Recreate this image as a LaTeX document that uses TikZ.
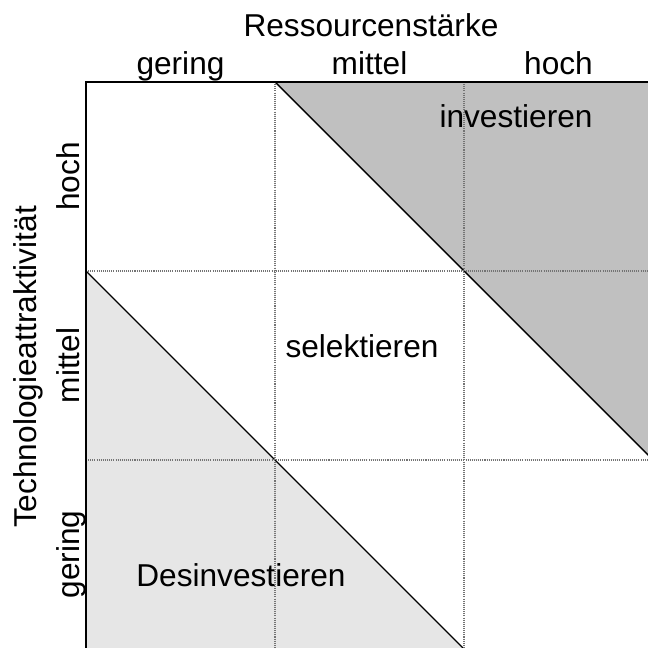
\documentclass[tikz,border=0pt]{standalone}
\usepackage{fontspec}
\setmainfont{Liberation Sans}
\definecolor{dunkelgrau}{HTML}{C0C0C0}
\definecolor{hellgrau}{HTML}{E6E6E6}

\begin{document}
\begin{tikzpicture}[x=0.02cm, y=-0.02cm,
    gitter/.style={black!55, line width=0.6pt, dash pattern=on 0.6pt off 0.6pt},
    linie/.style={black, line width=0.8pt},
    schrift/.style={font=\fontsize{18}{21}\selectfont, inner sep=0pt, anchor=base}]
    \useasboundingbox (0,0) rectangle (648,648);
    \clip (0,0) rectangle (648,648);

    % --- 1. Raster: Ursprung und Zellengroesse ---
    \def\xL{86}
    \def\yT{82}
    \def\zelle{189}
    \foreach \i in {0,...,3}
        \foreach \j in {0,...,3}
            \coordinate (P\i\j) at (\xL+\i*\zelle, \yT+\j*\zelle);

    % --- 2. Flaechen investieren / desinvestieren ---
    \fill[dunkelgrau] (P10) -- (P30) -- (P32) -- cycle;
    \fill[hellgrau] (P01) -- (P03) -- (P23) -- cycle;
    \draw[linie] (P10) -- (P32);
    \draw[linie] (P01) -- (P23);

    % --- 3. Beschriftungen ---
    \node[schrift] (investieren) at (516,128) {investieren};
    \node[schrift] (selektieren) at (362,357) {selektieren};
    \node[schrift] (desinvestieren) at (241,586) {Desinvestieren};

    \node[schrift] (ressourcen) at (371,37) {Ressourcenstärke};
    \foreach \t/\i in {gering/0, mittel/1, hoch/2}
        \node[schrift] (x-\t) at (\xL+\i*\zelle+0.5*\zelle, 75) {\t};

    \node[schrift, rotate=90] (technologie) at (36,367) {Technologieattraktivität};
    \foreach \t/\j in {hoch/0, mittel/1, gering/2}
        \node[schrift, rotate=90] (y-\t) at (79, \yT+\j*\zelle+0.5*\zelle) {\t};

    % --- 4. Gitterlinien (ueber dem Text) ---
    \draw[gitter] (P10) -- (P13);
    \draw[gitter] (P20) -- (P23);
    \draw[gitter] (P01) -- (P31);
    \draw[gitter] (P02) -- (P32);

    % --- 5. Rahmen ---
    \draw[linie] (P03) -- (P00) -- (P30) -- (P33) -- cycle;
\end{tikzpicture}
\end{document}
